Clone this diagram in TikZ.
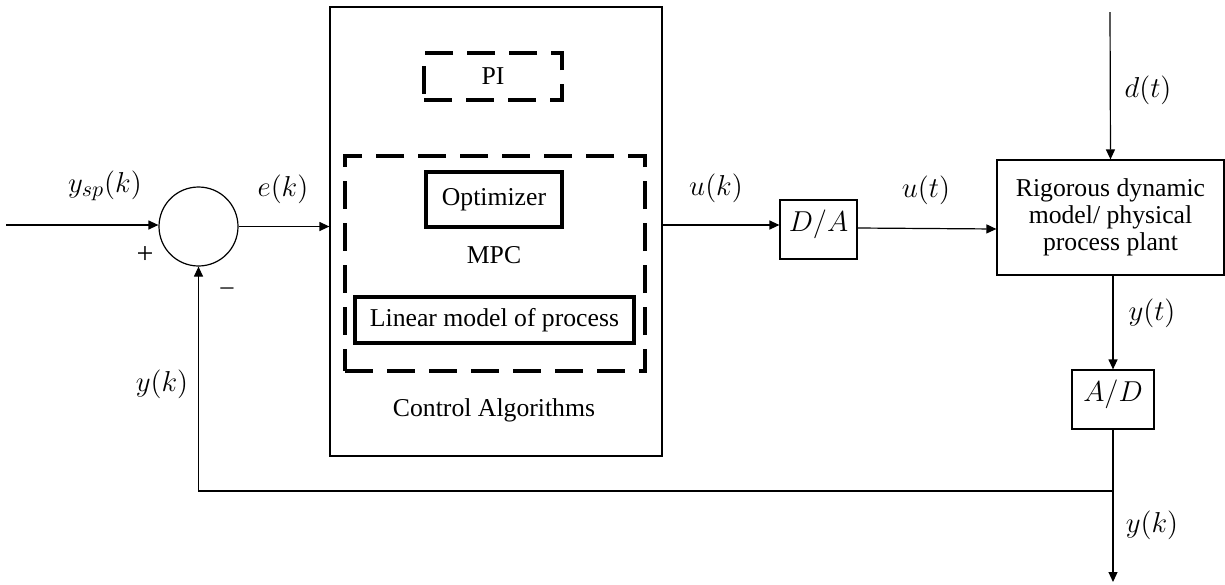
\documentclass[tikz,border=0pt]{standalone}
\usepackage{fontspec}
\setmainfont{Liberation Serif}
\usetikzlibrary{arrows.meta}
\begin{document}
\begin{tikzpicture}[x=0.5pt,y=-0.5pt,
  every node/.style={font=\fontsize{12.85}{13.5}\selectfont},
  thinbox/.style={draw, line width=0.6pt, inner sep=0pt},
  convbox/.style={thinbox, font=\fontsize{14}{15}\selectfont, text depth=9pt},
  thickbox/.style={draw, line width=2pt, inner sep=0pt},
  dashbox/.style={draw, line width=2pt, dash pattern=on 14pt off 7pt, inner sep=0pt},
  lbl/.style={inner sep=0pt},
  mlbl/.style={inner sep=0pt, font=\fontsize{15}{16}\selectfont},
  conn/.style={line width=0.6pt},
  arr/.style={conn, -{Triangle[length=5pt,width=4.5pt]}}
]
\useasboundingbox (0,0) rectangle (1225,584);

% summing junction
\node[draw, circle, line width=0.6pt, minimum size=39.5pt, inner sep=0pt] (sum) at (198.5,226.5) {};

% control algorithms block
\node[thinbox, minimum width=166pt, minimum height=224.5pt] (ctrl) at (496,231.5) {};
\node[dashbox, minimum width=69pt, minimum height=23.5pt] (pi) at (493,76.5) {PI};
\node[dashbox, minimum width=150pt, minimum height=107.5pt] (mpc) at (495,263.5) {};
\node[thickbox, minimum width=68pt, minimum height=27.5pt] (opt) at (494,199.5) {Optimizer};
\node[lbl] (mpclbl) at (494,255) {MPC};
\node[thickbox, minimum width=139.5pt, minimum height=23pt] (lin) at (494.5,320) {Linear model of process};
\node[lbl] (ctrllbl) at (494,410) {Control Algorithms};

% converters and plant
\node[convbox, minimum width=38.5pt, minimum height=29.5pt] (da) at (818.5,229.5) {$D/A$};
\node[thinbox, minimum width=113.5pt, minimum height=57.5pt, align=center] (plant) at (1110.5,217.5)
  {Rigorous dynamic\\model/ physical\\process plant};
\node[convbox, minimum width=41pt, minimum height=29.5pt] (ad) at (1113,399.5) {$A/D$};

% free ends
\coordinate (in) at (6,225);
\coordinate (dtop) at (1110,12);
\coordinate (junc) at (1113,491);
\coordinate (out) at (1113,582);
\coordinate (fb) at (198.5,491);

% connectors
\draw[arr] (in) -- (in -| sum.west);
\draw[arr] (sum.east) -- (sum.east -| ctrl.west);
\draw[arr] (ctrl.east |- 0,225) -- (da.west |- 0,225);
\draw[arr] (da.east |- 0,228) -- (plant.west |- 0,229);
\draw[arr] (dtop) -- (plant.north);
\draw[arr] (ad.north |- plant.south) -- (ad.north);
\draw[arr] (ad.south) -- (out);
\draw[arr] (junc) -- (fb) -- (sum.south);

% labels
\node[mlbl] (lysp) at (105,186) {$y_{sp}(k)$};
\node[mlbl] (lek) at (283,189) {$e(k)$};
\node[lbl, font=\fontsize{15}{16}\selectfont] (lplus) at (145,255) {+};
\node[lbl] (lminus) at (227,291) {–};
\node[mlbl] (lyk1) at (162,384) {$y(k)$};
\node[mlbl] (luk) at (716,188) {$u(k)$};
\node[mlbl] (lut) at (926,190) {$u(t)$};
\node[mlbl] (ldt) at (1148,90) {$d(t)$};
\node[mlbl] (lyt) at (1152,313) {$y(t)$};
\node[mlbl] (lyk2) at (1152,525) {$y(k)$};
\end{tikzpicture}
\end{document}
